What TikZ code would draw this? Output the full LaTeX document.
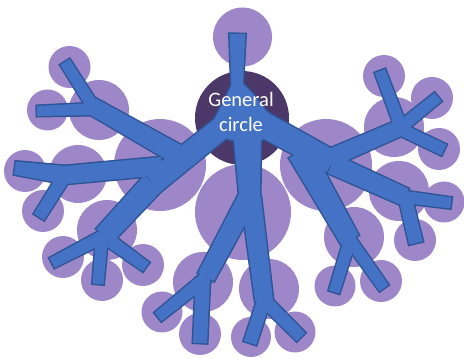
\documentclass[tikz,border=0pt]{standalone}
\usepackage{fontspec}
\setmainfont{Carlito}
\usetikzlibrary{calc}
\definecolor{lavc}{HTML}{9E87C9}
\definecolor{darkc}{HTML}{4B3868}
\definecolor{tblue}{HTML}{4472C4}
\definecolor{tbord}{HTML}{2F5597}
\newcommand\lc[3]{\fill[lavc] (#1,#2) circle[radius=#3pt];}
\newcommand\seg[6]{\path[treepart] ($(#1,#2)!#3pt!90:(#4,#5)$) -- ($(#4,#5)!#6pt!-90:(#1,#2)$) -- ($(#4,#5)!#6pt!90:(#1,#2)$) -- ($(#1,#2)!#3pt!-90:(#4,#5)$) -- cycle;}
\newcommand\treeparts{%
  \path[treepart] (231,86) -- (243,84) -- (252,93) -- (267,112) -- (277,122) -- (262,140) -- (242,142) -- (228,139) -- (213,122) -- (227,95) -- cycle;
  % top
  \seg{237.5}{34}{8}{237}{88}{5.5}
  % left main
  \seg{236}{116}{11}{153}{183}{11.5}
  \seg{153}{183}{11.5}{104}{236}{10.5}
  \seg{182}{157}{10}{92}{106}{8.5}
  \seg{94}{108}{6}{65}{62}{5.5}
  \seg{94}{109}{6}{37}{111}{5}
  \seg{162}{166}{9}{65}{175}{9}
  \seg{65}{175}{9}{15}{168}{6.5}
  \seg{64}{177}{6.5}{39}{217}{6}
  \seg{104}{236}{6.5}{52}{263}{5.5}
  \seg{102}{238}{6}{98}{284}{5.5}
  \seg{106}{238}{6.5}{146}{267}{5.5}
  % bottom
  \seg{247}{128}{14}{250}{205}{10}
  \seg{248}{198}{10}{206}{277}{9}
  \seg{206}{278}{6.5}{158}{317}{5.5}
  \seg{203}{278}{7}{200}{343}{7}
  \seg{251}{198}{10}{264}{300}{9}
  \seg{264}{300}{6.5}{250}{343}{6.5}
  \seg{264}{300}{6.5}{301}{337}{6}
  % right
  \seg{255}{120}{12.5}{332}{162}{11.5}
  \seg{328}{159}{9}{402}{127}{8}
  \seg{401}{127}{6}{380}{71}{5.5}
  \seg{401}{127}{6}{438}{97}{5.5}
  \seg{400}{129}{6}{444}{150}{6}
  \seg{332}{164}{10}{405}{197}{9}
  \seg{405}{197}{6}{451}{203}{5.5}
  \seg{405}{197}{6.5}{416}{243}{7}
  \seg{300}{152}{12.5}{350}{240}{10}
  \seg{350}{240}{6}{334}{292}{5.5}
  \seg{350}{240}{6}{384}{288}{5.5}
}
\begin{document}
\begin{tikzpicture}[x=1pt,y=-1pt,
  lbl/.style={font=\fontsize{20.5}{24}\selectfont, text=white, inner sep=0pt}]
\useasboundingbox (0,0) rectangle (464,358);
% lavender circles
\lc{242.5}{37}{29.5}
\lc{69.5}{67}{21}
\lc{47.5}{110}{20.5}
\lc{99}{110}{30}
\lc{160}{165}{46}
\lc{25}{171}{21}
\lc{78}{174}{29}
\lc{43}{211}{21}
\lc{107}{230}{30}
\lc{63}{257}{21}
\lc{102}{280}{21}
\lc{143}{265}{21}
\lc{243}{212}{48}
\lc{203}{282}{30}
\lc{162}{312}{20.5}
\lc{200}{334}{21}
\lc{269}{289}{30}
\lc{251}{337}{20}
\lc{295}{332}{20.5}
\lc{354}{237}{30}
\lc{335}{286}{20.5}
\lc{381}{281}{21}
\lc{415}{240}{21}
\lc{444}{202}{20.5}
\lc{399}{191}{30}
\lc{326}{165}{46}
\lc{384}{76}{21}
\lc{432}{98}{21}
\lc{394}{127}{30}
\lc{439}{149}{21}
% general circle
\fill[darkc] (242,118) circle[radius=47pt];
% tree: border pass then fill pass
\begin{scope}[treepart/.style={draw=tbord, fill=tbord, line width=3pt, line join=miter}]
\treeparts
\end{scope}
\begin{scope}[treepart/.style={fill=tblue}]
\treeparts
\end{scope}
\node[lbl, anchor=base] (gen1) at (241,107) {General};
\node[lbl, anchor=base] (gen2) at (241,132) {circle};
\end{tikzpicture}
\end{document}
